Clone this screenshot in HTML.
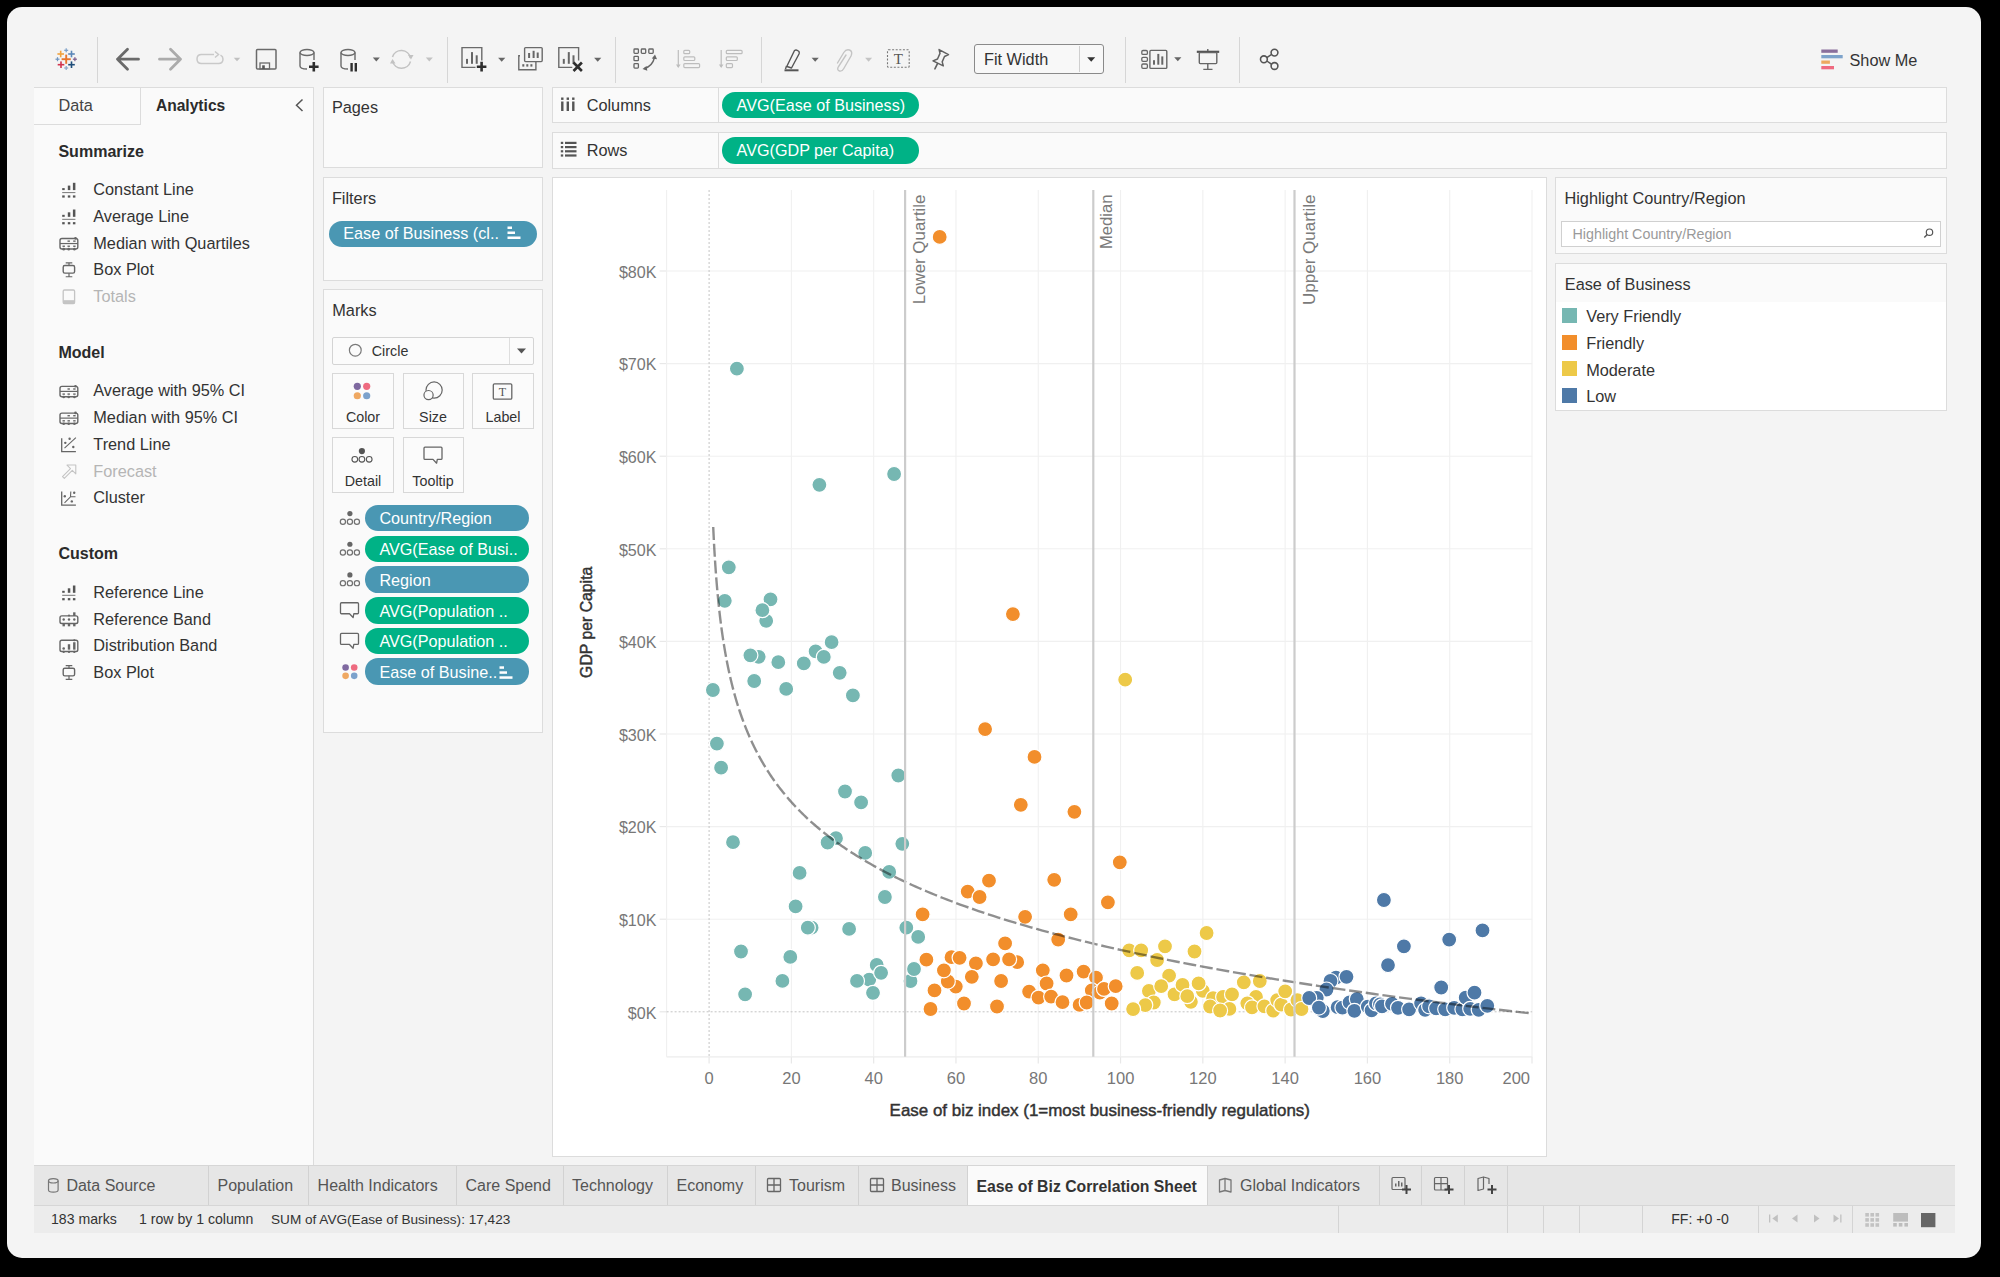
<!DOCTYPE html>
<html><head><meta charset="utf-8"><title>Tableau - Ease of Biz Correlation Sheet</title>
<style>
html,body{margin:0;padding:0;width:2000px;height:1277px;overflow:hidden;background:#000;font-family:"Liberation Sans", sans-serif;}
#root{position:relative;width:2000px;height:1277px;overflow:hidden;}
</style></head><body><div id="root">
<div style="position:absolute;left:7px;top:7px;width:1974px;height:1251px;border-radius:15px;background:#f4f4f4;"></div><div style="position:absolute;left:97.00px;top:37.00px;width:1.00px;height:46.00px;background:#d6d6d6"></div><div style="position:absolute;left:446.50px;top:37.00px;width:1.00px;height:46.00px;background:#d6d6d6"></div><div style="position:absolute;left:614.50px;top:37.00px;width:1.00px;height:46.00px;background:#d6d6d6"></div><div style="position:absolute;left:761.00px;top:37.00px;width:1.00px;height:46.00px;background:#d6d6d6"></div><div style="position:absolute;left:1124.50px;top:37.00px;width:1.00px;height:46.00px;background:#d6d6d6"></div><div style="position:absolute;left:1238.50px;top:37.00px;width:1.00px;height:46.00px;background:#d6d6d6"></div><div style="position:absolute;left:34.00px;top:86.50px;width:280.00px;height:1078.50px;background:#fafafa;border-top:1px solid #dcdcdc;border-right:1px solid #dcdcdc;box-sizing:border-box"></div><div style="position:absolute;left:34.00px;top:86.50px;width:107.00px;height:38.50px;border-right:1px solid #dcdcdc;border-bottom:1px solid #dcdcdc;box-sizing:border-box"></div><div style="position:absolute;left:58.40px;top:97.20px;font-size:16.3px;line-height:1;color:#444;font-weight:normal;white-space:nowrap;">Data</div><div style="position:absolute;left:155.90px;top:97.79px;font-size:15.6px;line-height:1;color:#2b2b2b;font-weight:bold;white-space:nowrap;">Analytics</div><svg style="position:absolute;left:293px;top:97px;overflow:visible;" width="14" height="16" viewBox="0 0 14 16"><path d="M9.5 2.5 L3.5 8.3 L9.5 14" fill="none" stroke="#555" stroke-width="1.5"/></svg><div style="position:absolute;left:58.40px;top:142.81px;font-size:16.05px;line-height:1;color:#2b2b2b;font-weight:bold;white-space:nowrap;">Summarize</div><div style="position:absolute;left:93.30px;top:181.30px;font-size:16.3px;line-height:1;color:#333;font-weight:normal;white-space:nowrap;">Constant Line</div><div style="position:absolute;left:93.30px;top:208.02px;font-size:16.3px;line-height:1;color:#333;font-weight:normal;white-space:nowrap;">Average Line</div><div style="position:absolute;left:93.30px;top:234.74px;font-size:16.3px;line-height:1;color:#333;font-weight:normal;white-space:nowrap;">Median with Quartiles</div><div style="position:absolute;left:93.30px;top:261.46px;font-size:16.3px;line-height:1;color:#333;font-weight:normal;white-space:nowrap;">Box Plot</div><div style="position:absolute;left:93.30px;top:288.18px;font-size:16.3px;line-height:1;color:#b5b5b5;font-weight:normal;white-space:nowrap;">Totals</div><div style="position:absolute;left:58.40px;top:343.91px;font-size:16.05px;line-height:1;color:#2b2b2b;font-weight:bold;white-space:nowrap;">Model</div><div style="position:absolute;left:93.30px;top:382.40px;font-size:16.3px;line-height:1;color:#333;font-weight:normal;white-space:nowrap;">Average with 95% CI</div><div style="position:absolute;left:93.30px;top:409.12px;font-size:16.3px;line-height:1;color:#333;font-weight:normal;white-space:nowrap;">Median with 95% CI</div><div style="position:absolute;left:93.30px;top:435.84px;font-size:16.3px;line-height:1;color:#333;font-weight:normal;white-space:nowrap;">Trend Line</div><div style="position:absolute;left:93.30px;top:462.56px;font-size:16.3px;line-height:1;color:#b5b5b5;font-weight:normal;white-space:nowrap;">Forecast</div><div style="position:absolute;left:93.30px;top:489.28px;font-size:16.3px;line-height:1;color:#333;font-weight:normal;white-space:nowrap;">Cluster</div><div style="position:absolute;left:58.40px;top:545.41px;font-size:16.05px;line-height:1;color:#2b2b2b;font-weight:bold;white-space:nowrap;">Custom</div><div style="position:absolute;left:93.30px;top:583.90px;font-size:16.3px;line-height:1;color:#333;font-weight:normal;white-space:nowrap;">Reference Line</div><div style="position:absolute;left:93.30px;top:610.62px;font-size:16.3px;line-height:1;color:#333;font-weight:normal;white-space:nowrap;">Reference Band</div><div style="position:absolute;left:93.30px;top:637.34px;font-size:16.3px;line-height:1;color:#333;font-weight:normal;white-space:nowrap;">Distribution Band</div><div style="position:absolute;left:93.30px;top:664.06px;font-size:16.3px;line-height:1;color:#333;font-weight:normal;white-space:nowrap;">Box Plot</div><div style="position:absolute;left:322.50px;top:86.50px;width:220.50px;height:81.80px;background:#fafafa;border:1px solid #dcdcdc;box-sizing:border-box"></div><div style="position:absolute;left:331.90px;top:99.20px;font-size:16.3px;line-height:1;color:#333;font-weight:normal;white-space:nowrap;">Pages</div><div style="position:absolute;left:322.50px;top:177.00px;width:220.50px;height:103.50px;background:#fafafa;border:1px solid #dcdcdc;box-sizing:border-box"></div><div style="position:absolute;left:331.90px;top:189.80px;font-size:16.3px;line-height:1;color:#333;font-weight:normal;white-space:nowrap;">Filters</div><div style="position:absolute;left:322.50px;top:289.00px;width:220.50px;height:443.50px;background:#fafafa;border:1px solid #dcdcdc;box-sizing:border-box"></div><div style="position:absolute;left:332.30px;top:301.70px;font-size:16.3px;line-height:1;color:#333;font-weight:normal;white-space:nowrap;">Marks</div><div style="position:absolute;left:329.00px;top:220.80px;width:208.00px;height:26.60px;background:#4a97b3;border-radius:13.3px"></div><div style="position:absolute;left:343.30px;top:225.29px;font-size:16.2px;line-height:1;color:#fff;font-weight:normal;white-space:nowrap;">Ease of Business (cl..</div><div style="position:absolute;left:332.00px;top:337.00px;width:202.00px;height:27.50px;background:#fbfbfb;border:1px solid #d4d4d4;box-sizing:border-box;border-radius:2px"></div><div style="position:absolute;left:509.00px;top:338.00px;width:1.00px;height:25.50px;background:#dedede"></div><div style="position:absolute;left:371.80px;top:343.70px;font-size:14.3px;line-height:1;color:#333;font-weight:normal;white-space:nowrap;">Circle</div><div style="position:absolute;left:332.00px;top:373.00px;width:62.00px;height:55.50px;background:#fbfbfb;border:1px solid #d8d8d8;box-sizing:border-box"></div><div style="position:absolute;left:363.00px;transform:translateX(-50%);top:410.20px;font-size:14.3px;line-height:1;color:#333;font-weight:normal;white-space:nowrap;">Color</div><div style="position:absolute;left:402.50px;top:373.00px;width:61.00px;height:55.50px;background:#fbfbfb;border:1px solid #d8d8d8;box-sizing:border-box"></div><div style="position:absolute;left:433.00px;transform:translateX(-50%);top:410.20px;font-size:14.3px;line-height:1;color:#333;font-weight:normal;white-space:nowrap;">Size</div><div style="position:absolute;left:472.00px;top:373.00px;width:62.00px;height:55.50px;background:#fbfbfb;border:1px solid #d8d8d8;box-sizing:border-box"></div><div style="position:absolute;left:503.00px;transform:translateX(-50%);top:410.20px;font-size:14.3px;line-height:1;color:#333;font-weight:normal;white-space:nowrap;">Label</div><div style="position:absolute;left:332.00px;top:437.00px;width:62.00px;height:55.50px;background:#fbfbfb;border:1px solid #d8d8d8;box-sizing:border-box"></div><div style="position:absolute;left:363.00px;transform:translateX(-50%);top:474.20px;font-size:14.3px;line-height:1;color:#333;font-weight:normal;white-space:nowrap;">Detail</div><div style="position:absolute;left:402.50px;top:437.00px;width:61.00px;height:55.50px;background:#fbfbfb;border:1px solid #d8d8d8;box-sizing:border-box"></div><div style="position:absolute;left:433.00px;transform:translateX(-50%);top:474.20px;font-size:14.3px;line-height:1;color:#333;font-weight:normal;white-space:nowrap;">Tooltip</div><div style="position:absolute;left:364.80px;top:504.90px;width:164.20px;height:26.50px;background:#4a97b3;border-radius:13.2px"></div><div style="position:absolute;left:379.40px;top:510.49px;font-size:16.2px;line-height:1;color:#fff;font-weight:normal;white-space:nowrap;">Country/Region</div><div style="position:absolute;left:364.80px;top:535.60px;width:164.20px;height:26.50px;background:#00b286;border-radius:13.2px"></div><div style="position:absolute;left:379.40px;top:541.19px;font-size:16.2px;line-height:1;color:#fff;font-weight:normal;white-space:nowrap;">AVG(Ease of Busi..</div><div style="position:absolute;left:364.80px;top:566.30px;width:164.20px;height:26.50px;background:#4a97b3;border-radius:13.2px"></div><div style="position:absolute;left:379.40px;top:571.89px;font-size:16.2px;line-height:1;color:#fff;font-weight:normal;white-space:nowrap;">Region</div><div style="position:absolute;left:364.80px;top:597.00px;width:164.20px;height:26.50px;background:#00b286;border-radius:13.2px"></div><div style="position:absolute;left:379.40px;top:602.59px;font-size:16.2px;line-height:1;color:#fff;font-weight:normal;white-space:nowrap;">AVG(Population ..</div><div style="position:absolute;left:364.80px;top:627.70px;width:164.20px;height:26.50px;background:#00b286;border-radius:13.2px"></div><div style="position:absolute;left:379.40px;top:633.29px;font-size:16.2px;line-height:1;color:#fff;font-weight:normal;white-space:nowrap;">AVG(Population ..</div><div style="position:absolute;left:364.80px;top:658.40px;width:164.20px;height:26.50px;background:#4a97b3;border-radius:13.2px"></div><div style="position:absolute;left:379.40px;top:663.99px;font-size:16.2px;line-height:1;color:#fff;font-weight:normal;white-space:nowrap;">Ease of Busine..</div><div style="position:absolute;left:552.00px;top:86.50px;width:1394.50px;height:36.50px;background:#fafafa;border:1px solid #dcdcdc;box-sizing:border-box"></div><div style="position:absolute;left:718.00px;top:87.00px;width:1.00px;height:35.00px;background:#dcdcdc"></div><div style="position:absolute;left:586.70px;top:97.20px;font-size:16.3px;line-height:1;color:#333;font-weight:normal;white-space:nowrap;">Columns</div><div style="position:absolute;left:722.40px;top:91.50px;width:197.10px;height:26.50px;background:#00b286;border-radius:13.2px"></div><div style="position:absolute;left:736.60px;top:96.72px;font-size:16.16px;line-height:1;color:#fff;font-weight:normal;white-space:nowrap;">AVG(Ease of Business)</div><div style="position:absolute;left:552.00px;top:131.50px;width:1394.50px;height:37.00px;background:#fafafa;border:1px solid #dcdcdc;box-sizing:border-box"></div><div style="position:absolute;left:718.00px;top:132.00px;width:1.00px;height:36.00px;background:#dcdcdc"></div><div style="position:absolute;left:586.70px;top:142.20px;font-size:16.3px;line-height:1;color:#333;font-weight:normal;white-space:nowrap;">Rows</div><div style="position:absolute;left:722.40px;top:137.00px;width:197.10px;height:26.50px;background:#00b286;border-radius:13.2px"></div><div style="position:absolute;left:736.60px;top:141.92px;font-size:16.16px;line-height:1;color:#fff;font-weight:normal;white-space:nowrap;">AVG(GDP per Capita)</div><div style="position:absolute;left:552.00px;top:177.00px;width:994.50px;height:980.00px;background:#fff;border:1px solid #dcdcdc;box-sizing:border-box"></div><div style="position:absolute;left:1554.50px;top:177.00px;width:392.00px;height:76.50px;background:#fafafa;border:1px solid #dcdcdc;box-sizing:border-box"></div><div style="position:absolute;left:1564.50px;top:190.20px;font-size:16.3px;line-height:1;color:#333;font-weight:normal;white-space:nowrap;">Highlight Country/Region</div><div style="position:absolute;left:1560.50px;top:221.00px;width:380.50px;height:26.00px;background:#fff;border:1px solid #d0d0d0;box-sizing:border-box"></div><div style="position:absolute;left:1572.50px;top:226.70px;font-size:14.3px;line-height:1;color:#9a9a9a;font-weight:normal;white-space:nowrap;">Highlight Country/Region</div><div style="position:absolute;left:1554.50px;top:262.50px;width:392.00px;height:148.50px;background:#fff;border:1px solid #dcdcdc;box-sizing:border-box"></div><div style="position:absolute;left:1555.50px;top:263.50px;width:390.00px;height:38.50px;background:#fafafa"></div><div style="position:absolute;left:1564.80px;top:275.50px;font-size:16.3px;line-height:1;color:#333;font-weight:normal;white-space:nowrap;">Ease of Business</div><div style="position:absolute;left:1562.00px;top:308.20px;width:15.00px;height:15.00px;background:#76b7b2"></div><div style="position:absolute;left:1586.20px;top:308.40px;font-size:16.3px;line-height:1;color:#333;font-weight:normal;white-space:nowrap;">Very Friendly</div><div style="position:absolute;left:1562.00px;top:334.80px;width:15.00px;height:15.00px;background:#f28e2b"></div><div style="position:absolute;left:1586.20px;top:335.00px;font-size:16.3px;line-height:1;color:#333;font-weight:normal;white-space:nowrap;">Friendly</div><div style="position:absolute;left:1562.00px;top:361.40px;width:15.00px;height:15.00px;background:#edc948"></div><div style="position:absolute;left:1586.20px;top:361.60px;font-size:16.3px;line-height:1;color:#333;font-weight:normal;white-space:nowrap;">Moderate</div><div style="position:absolute;left:1562.00px;top:388.00px;width:15.00px;height:15.00px;background:#4e79a7"></div><div style="position:absolute;left:1586.20px;top:388.20px;font-size:16.3px;line-height:1;color:#333;font-weight:normal;white-space:nowrap;">Low</div><div style="position:absolute;left:34.00px;top:1165.00px;width:1920.50px;height:41.00px;background:#e6e6e6;border-top:1px solid #d6d6d6;border-bottom:1px solid #d6d6d6;box-sizing:border-box"></div><div style="position:absolute;left:967.50px;top:1166.00px;width:240.00px;height:39.00px;background:#fafafa"></div><div style="position:absolute;left:207.50px;top:1166.00px;width:1.00px;height:39.00px;background:#d2d2d2"></div><div style="position:absolute;left:308.00px;top:1166.00px;width:1.00px;height:39.00px;background:#d2d2d2"></div><div style="position:absolute;left:456.20px;top:1166.00px;width:1.00px;height:39.00px;background:#d2d2d2"></div><div style="position:absolute;left:563.10px;top:1166.00px;width:1.00px;height:39.00px;background:#d2d2d2"></div><div style="position:absolute;left:666.80px;top:1166.00px;width:1.00px;height:39.00px;background:#d2d2d2"></div><div style="position:absolute;left:754.90px;top:1166.00px;width:1.00px;height:39.00px;background:#d2d2d2"></div><div style="position:absolute;left:857.50px;top:1166.00px;width:1.00px;height:39.00px;background:#d2d2d2"></div><div style="position:absolute;left:967.00px;top:1166.00px;width:1.00px;height:39.00px;background:#d2d2d2"></div><div style="position:absolute;left:1207.00px;top:1166.00px;width:1.00px;height:39.00px;background:#d2d2d2"></div><div style="position:absolute;left:1378.80px;top:1166.00px;width:1.00px;height:39.00px;background:#d2d2d2"></div><div style="position:absolute;left:1421.00px;top:1166.00px;width:1.00px;height:39.00px;background:#d2d2d2"></div><div style="position:absolute;left:1463.50px;top:1166.00px;width:1.00px;height:39.00px;background:#d2d2d2"></div><div style="position:absolute;left:1506.50px;top:1166.00px;width:1.00px;height:39.00px;background:#d2d2d2"></div><div style="position:absolute;left:66.40px;top:1178.46px;font-size:16.0px;line-height:1;color:#555;font-weight:normal;white-space:nowrap;">Data Source</div><div style="position:absolute;left:217.50px;top:1178.46px;font-size:16.0px;line-height:1;color:#555;font-weight:normal;white-space:nowrap;">Population</div><div style="position:absolute;left:317.60px;top:1178.46px;font-size:16.0px;line-height:1;color:#555;font-weight:normal;white-space:nowrap;">Health Indicators</div><div style="position:absolute;left:465.50px;top:1178.46px;font-size:16.0px;line-height:1;color:#555;font-weight:normal;white-space:nowrap;">Care Spend</div><div style="position:absolute;left:572.00px;top:1178.46px;font-size:16.0px;line-height:1;color:#555;font-weight:normal;white-space:nowrap;">Technology</div><div style="position:absolute;left:676.50px;top:1178.46px;font-size:16.0px;line-height:1;color:#555;font-weight:normal;white-space:nowrap;">Economy</div><div style="position:absolute;left:789.00px;top:1178.46px;font-size:16.0px;line-height:1;color:#555;font-weight:normal;white-space:nowrap;">Tourism</div><div style="position:absolute;left:891.00px;top:1178.46px;font-size:16.0px;line-height:1;color:#555;font-weight:normal;white-space:nowrap;">Business</div><div style="position:absolute;left:1240.00px;top:1178.46px;font-size:16.0px;line-height:1;color:#555;font-weight:normal;white-space:nowrap;">Global Indicators</div><div style="position:absolute;left:976.50px;top:1178.63px;font-size:15.8px;line-height:1;color:#333;font-weight:bold;white-space:nowrap;">Ease of Biz Correlation Sheet</div><div style="position:absolute;left:34.00px;top:1206.00px;width:1920.50px;height:27.00px;background:#ececec"></div><div style="position:absolute;left:1337.50px;top:1206.00px;width:1.00px;height:27.00px;background:#d4d4d4"></div><div style="position:absolute;left:1506.50px;top:1206.00px;width:1.00px;height:27.00px;background:#d4d4d4"></div><div style="position:absolute;left:1542.50px;top:1206.00px;width:1.00px;height:27.00px;background:#d4d4d4"></div><div style="position:absolute;left:1578.50px;top:1206.00px;width:1.00px;height:27.00px;background:#d4d4d4"></div><div style="position:absolute;left:1641.50px;top:1206.00px;width:1.00px;height:27.00px;background:#d4d4d4"></div><div style="position:absolute;left:1757.50px;top:1206.00px;width:1.00px;height:27.00px;background:#d4d4d4"></div><div style="position:absolute;left:1851.90px;top:1206.00px;width:1.00px;height:27.00px;background:#d4d4d4"></div><div style="position:absolute;left:51.00px;top:1212.46px;font-size:14.1px;line-height:1;color:#333;font-weight:normal;white-space:nowrap;">183 marks</div><div style="position:absolute;left:139.00px;top:1212.46px;font-size:14.1px;line-height:1;color:#333;font-weight:normal;white-space:nowrap;">1 row by 1 column</div><div style="position:absolute;left:271.00px;top:1212.89px;font-size:13.6px;line-height:1;color:#333;font-weight:normal;white-space:nowrap;">SUM of AVG(Ease of Business): 17,423</div><div style="position:absolute;left:1700.00px;transform:translateX(-50%);top:1212.46px;font-size:14.1px;line-height:1;color:#333;font-weight:normal;white-space:nowrap;">FF: +0 -0</div><div style="position:absolute;left:1849.50px;top:52.20px;font-size:16.3px;line-height:1;color:#333;font-weight:normal;white-space:nowrap;">Show Me</div><div style="position:absolute;left:973.50px;top:44.00px;width:130.00px;height:29.50px;background:#f8f8f8;border:1.5px solid #8a8a8a;border-radius:3px;box-sizing:border-box"></div><div style="position:absolute;left:1079.00px;top:45.50px;width:1.00px;height:26.50px;background:#cfcfcf"></div><div style="position:absolute;left:984.00px;top:50.70px;font-size:16.3px;line-height:1;color:#333;font-weight:normal;white-space:nowrap;">Fit Width</div><svg style="position:absolute;left:0px;top:0px;overflow:visible;font-family:'Liberation Sans',sans-serif" width="2000" height="1277" viewBox="0 0 2000 1277"><line x1="666.6" y1="919.20" x2="1532.2" y2="919.20" stroke="#f0f0f0" stroke-width="1.1"/><line x1="659.6" y1="919.20" x2="666.6" y2="919.20" stroke="#e8e8e8" stroke-width="1.2"/><line x1="666.6" y1="826.60" x2="1532.2" y2="826.60" stroke="#f0f0f0" stroke-width="1.1"/><line x1="659.6" y1="826.60" x2="666.6" y2="826.60" stroke="#e8e8e8" stroke-width="1.2"/><line x1="666.6" y1="734.00" x2="1532.2" y2="734.00" stroke="#f0f0f0" stroke-width="1.1"/><line x1="659.6" y1="734.00" x2="666.6" y2="734.00" stroke="#e8e8e8" stroke-width="1.2"/><line x1="666.6" y1="641.40" x2="1532.2" y2="641.40" stroke="#f0f0f0" stroke-width="1.1"/><line x1="659.6" y1="641.40" x2="666.6" y2="641.40" stroke="#e8e8e8" stroke-width="1.2"/><line x1="666.6" y1="548.80" x2="1532.2" y2="548.80" stroke="#f0f0f0" stroke-width="1.1"/><line x1="659.6" y1="548.80" x2="666.6" y2="548.80" stroke="#e8e8e8" stroke-width="1.2"/><line x1="666.6" y1="456.20" x2="1532.2" y2="456.20" stroke="#f0f0f0" stroke-width="1.1"/><line x1="659.6" y1="456.20" x2="666.6" y2="456.20" stroke="#e8e8e8" stroke-width="1.2"/><line x1="666.6" y1="363.60" x2="1532.2" y2="363.60" stroke="#f0f0f0" stroke-width="1.1"/><line x1="659.6" y1="363.60" x2="666.6" y2="363.60" stroke="#e8e8e8" stroke-width="1.2"/><line x1="666.6" y1="271.00" x2="1532.2" y2="271.00" stroke="#f0f0f0" stroke-width="1.1"/><line x1="659.6" y1="271.00" x2="666.6" y2="271.00" stroke="#e8e8e8" stroke-width="1.2"/><line x1="791.39" y1="190" x2="791.39" y2="1056.8" stroke="#f0f0f0" stroke-width="1.1"/><line x1="873.68" y1="190" x2="873.68" y2="1056.8" stroke="#f0f0f0" stroke-width="1.1"/><line x1="955.97" y1="190" x2="955.97" y2="1056.8" stroke="#f0f0f0" stroke-width="1.1"/><line x1="1038.26" y1="190" x2="1038.26" y2="1056.8" stroke="#f0f0f0" stroke-width="1.1"/><line x1="1120.55" y1="190" x2="1120.55" y2="1056.8" stroke="#f0f0f0" stroke-width="1.1"/><line x1="1202.84" y1="190" x2="1202.84" y2="1056.8" stroke="#f0f0f0" stroke-width="1.1"/><line x1="1285.13" y1="190" x2="1285.13" y2="1056.8" stroke="#f0f0f0" stroke-width="1.1"/><line x1="1367.42" y1="190" x2="1367.42" y2="1056.8" stroke="#f0f0f0" stroke-width="1.1"/><line x1="1449.71" y1="190" x2="1449.71" y2="1056.8" stroke="#f0f0f0" stroke-width="1.1"/><line x1="1532.00" y1="190" x2="1532.00" y2="1056.8" stroke="#f0f0f0" stroke-width="1.1"/><line x1="709.10" y1="1056.8" x2="709.10" y2="1063.5" stroke="#e8e8e8" stroke-width="1.2"/><line x1="791.39" y1="1056.8" x2="791.39" y2="1063.5" stroke="#e8e8e8" stroke-width="1.2"/><line x1="873.68" y1="1056.8" x2="873.68" y2="1063.5" stroke="#e8e8e8" stroke-width="1.2"/><line x1="955.97" y1="1056.8" x2="955.97" y2="1063.5" stroke="#e8e8e8" stroke-width="1.2"/><line x1="1038.26" y1="1056.8" x2="1038.26" y2="1063.5" stroke="#e8e8e8" stroke-width="1.2"/><line x1="1120.55" y1="1056.8" x2="1120.55" y2="1063.5" stroke="#e8e8e8" stroke-width="1.2"/><line x1="1202.84" y1="1056.8" x2="1202.84" y2="1063.5" stroke="#e8e8e8" stroke-width="1.2"/><line x1="1285.13" y1="1056.8" x2="1285.13" y2="1063.5" stroke="#e8e8e8" stroke-width="1.2"/><line x1="1367.42" y1="1056.8" x2="1367.42" y2="1063.5" stroke="#e8e8e8" stroke-width="1.2"/><line x1="1449.71" y1="1056.8" x2="1449.71" y2="1063.5" stroke="#e8e8e8" stroke-width="1.2"/><line x1="1532.00" y1="1056.8" x2="1532.00" y2="1063.5" stroke="#e8e8e8" stroke-width="1.2"/><line x1="659.6" y1="1011.80" x2="666.6" y2="1011.80" stroke="#e8e8e8" stroke-width="1.2"/><line x1="666.6" y1="190" x2="666.6" y2="1056.8" stroke="#f0f0f0" stroke-width="1.1"/><line x1="666.6" y1="1056.8" x2="1532.2" y2="1056.8" stroke="#ececec" stroke-width="1.2"/><line x1="709.10" y1="190" x2="709.10" y2="1056.8" stroke="#c4c4c4" stroke-width="1" stroke-dasharray="2 2"/><line x1="666.6" y1="1011.80" x2="1532.2" y2="1011.80" stroke="#c4c4c4" stroke-width="1" stroke-dasharray="2 2"/><circle cx="736.9" cy="368.7" r="7.5" fill="#76b7b2" stroke="#fff" stroke-width="1.2"/><circle cx="819.4" cy="484.8" r="7.5" fill="#76b7b2" stroke="#fff" stroke-width="1.2"/><circle cx="894.1" cy="474" r="7.5" fill="#76b7b2" stroke="#fff" stroke-width="1.2"/><circle cx="728.8" cy="567.3" r="7.5" fill="#76b7b2" stroke="#fff" stroke-width="1.2"/><circle cx="724.8" cy="600.8" r="7.5" fill="#76b7b2" stroke="#fff" stroke-width="1.2"/><circle cx="770.5" cy="599.3" r="7.5" fill="#76b7b2" stroke="#fff" stroke-width="1.2"/><circle cx="766.2" cy="620.8" r="7.5" fill="#76b7b2" stroke="#fff" stroke-width="1.2"/><circle cx="762.4" cy="610.2" r="7.5" fill="#76b7b2" stroke="#fff" stroke-width="1.2"/><circle cx="758.7" cy="656.8" r="7.5" fill="#76b7b2" stroke="#fff" stroke-width="1.2"/><circle cx="750.4" cy="655.3" r="7.5" fill="#76b7b2" stroke="#fff" stroke-width="1.2"/><circle cx="778.3" cy="662.2" r="7.5" fill="#76b7b2" stroke="#fff" stroke-width="1.2"/><circle cx="803.8" cy="663.4" r="7.5" fill="#76b7b2" stroke="#fff" stroke-width="1.2"/><circle cx="815.6" cy="651.3" r="7.5" fill="#76b7b2" stroke="#fff" stroke-width="1.2"/><circle cx="823.8" cy="656.9" r="7.5" fill="#76b7b2" stroke="#fff" stroke-width="1.2"/><circle cx="831.6" cy="642.1" r="7.5" fill="#76b7b2" stroke="#fff" stroke-width="1.2"/><circle cx="839.7" cy="672.8" r="7.5" fill="#76b7b2" stroke="#fff" stroke-width="1.2"/><circle cx="754.2" cy="681" r="7.5" fill="#76b7b2" stroke="#fff" stroke-width="1.2"/><circle cx="712.9" cy="690" r="7.5" fill="#76b7b2" stroke="#fff" stroke-width="1.2"/><circle cx="786.2" cy="688.9" r="7.5" fill="#76b7b2" stroke="#fff" stroke-width="1.2"/><circle cx="852.9" cy="695.4" r="7.5" fill="#76b7b2" stroke="#fff" stroke-width="1.2"/><circle cx="716.9" cy="743.6" r="7.5" fill="#76b7b2" stroke="#fff" stroke-width="1.2"/><circle cx="721.1" cy="767.7" r="7.5" fill="#76b7b2" stroke="#fff" stroke-width="1.2"/><circle cx="845" cy="791.5" r="7.5" fill="#76b7b2" stroke="#fff" stroke-width="1.2"/><circle cx="861.1" cy="802.4" r="7.5" fill="#76b7b2" stroke="#fff" stroke-width="1.2"/><circle cx="733" cy="842.2" r="7.5" fill="#76b7b2" stroke="#fff" stroke-width="1.2"/><circle cx="836" cy="838.2" r="7.5" fill="#76b7b2" stroke="#fff" stroke-width="1.2"/><circle cx="827.6" cy="842.5" r="7.5" fill="#76b7b2" stroke="#fff" stroke-width="1.2"/><circle cx="865.2" cy="852.9" r="7.5" fill="#76b7b2" stroke="#fff" stroke-width="1.2"/><circle cx="898.3" cy="775.5" r="7.5" fill="#76b7b2" stroke="#fff" stroke-width="1.2"/><circle cx="799.6" cy="872.9" r="7.5" fill="#76b7b2" stroke="#fff" stroke-width="1.2"/><circle cx="795.6" cy="906.4" r="7.5" fill="#76b7b2" stroke="#fff" stroke-width="1.2"/><circle cx="811.6" cy="927.7" r="7.5" fill="#76b7b2" stroke="#fff" stroke-width="1.2"/><circle cx="807.8" cy="927.7" r="7.5" fill="#76b7b2" stroke="#fff" stroke-width="1.2"/><circle cx="849.1" cy="928.9" r="7.5" fill="#76b7b2" stroke="#fff" stroke-width="1.2"/><circle cx="741" cy="951.5" r="7.5" fill="#76b7b2" stroke="#fff" stroke-width="1.2"/><circle cx="790.3" cy="956.9" r="7.5" fill="#76b7b2" stroke="#fff" stroke-width="1.2"/><circle cx="782.4" cy="980.9" r="7.5" fill="#76b7b2" stroke="#fff" stroke-width="1.2"/><circle cx="745.1" cy="994.3" r="7.5" fill="#76b7b2" stroke="#fff" stroke-width="1.2"/><circle cx="869.2" cy="979.7" r="7.5" fill="#76b7b2" stroke="#fff" stroke-width="1.2"/><circle cx="857" cy="980.9" r="7.5" fill="#76b7b2" stroke="#fff" stroke-width="1.2"/><circle cx="876.7" cy="965" r="7.5" fill="#76b7b2" stroke="#fff" stroke-width="1.2"/><circle cx="881.1" cy="972.8" r="7.5" fill="#76b7b2" stroke="#fff" stroke-width="1.2"/><circle cx="873" cy="992.8" r="7.5" fill="#76b7b2" stroke="#fff" stroke-width="1.2"/><circle cx="884.9" cy="897" r="7.5" fill="#76b7b2" stroke="#fff" stroke-width="1.2"/><circle cx="889.2" cy="871.9" r="7.5" fill="#76b7b2" stroke="#fff" stroke-width="1.2"/><circle cx="902.3" cy="843.8" r="7.5" fill="#76b7b2" stroke="#fff" stroke-width="1.2"/><circle cx="906.3" cy="927.7" r="7.5" fill="#76b7b2" stroke="#fff" stroke-width="1.2"/><circle cx="918.2" cy="936.9" r="7.5" fill="#76b7b2" stroke="#fff" stroke-width="1.2"/><circle cx="910.5" cy="981" r="7.5" fill="#76b7b2" stroke="#fff" stroke-width="1.2"/><circle cx="914" cy="969" r="7.5" fill="#76b7b2" stroke="#fff" stroke-width="1.2"/><circle cx="939.7" cy="236.9" r="7.5" fill="#f28e2b" stroke="#fff" stroke-width="1.2"/><circle cx="1012.9" cy="614.1" r="7.5" fill="#f28e2b" stroke="#fff" stroke-width="1.2"/><circle cx="985.1" cy="729.1" r="7.5" fill="#f28e2b" stroke="#fff" stroke-width="1.2"/><circle cx="1034.5" cy="756.9" r="7.5" fill="#f28e2b" stroke="#fff" stroke-width="1.2"/><circle cx="1020.8" cy="804.8" r="7.5" fill="#f28e2b" stroke="#fff" stroke-width="1.2"/><circle cx="1074.4" cy="811.8" r="7.5" fill="#f28e2b" stroke="#fff" stroke-width="1.2"/><circle cx="1119.8" cy="862.3" r="7.5" fill="#f28e2b" stroke="#fff" stroke-width="1.2"/><circle cx="1107.9" cy="902.3" r="7.5" fill="#f28e2b" stroke="#fff" stroke-width="1.2"/><circle cx="989" cy="880.7" r="7.5" fill="#f28e2b" stroke="#fff" stroke-width="1.2"/><circle cx="967.7" cy="891.6" r="7.5" fill="#f28e2b" stroke="#fff" stroke-width="1.2"/><circle cx="979.6" cy="897" r="7.5" fill="#f28e2b" stroke="#fff" stroke-width="1.2"/><circle cx="1054.2" cy="879.8" r="7.5" fill="#f28e2b" stroke="#fff" stroke-width="1.2"/><circle cx="922.6" cy="914.3" r="7.5" fill="#f28e2b" stroke="#fff" stroke-width="1.2"/><circle cx="1025.1" cy="916.8" r="7.5" fill="#f28e2b" stroke="#fff" stroke-width="1.2"/><circle cx="1070.7" cy="914.3" r="7.5" fill="#f28e2b" stroke="#fff" stroke-width="1.2"/><circle cx="1058.2" cy="939.6" r="7.5" fill="#f28e2b" stroke="#fff" stroke-width="1.2"/><circle cx="1005.1" cy="943.4" r="7.5" fill="#f28e2b" stroke="#fff" stroke-width="1.2"/><circle cx="926.4" cy="959.7" r="7.5" fill="#f28e2b" stroke="#fff" stroke-width="1.2"/><circle cx="951.5" cy="957.2" r="7.5" fill="#f28e2b" stroke="#fff" stroke-width="1.2"/><circle cx="959.6" cy="957.8" r="7.5" fill="#f28e2b" stroke="#fff" stroke-width="1.2"/><circle cx="975.9" cy="963.4" r="7.5" fill="#f28e2b" stroke="#fff" stroke-width="1.2"/><circle cx="993.1" cy="959.4" r="7.5" fill="#f28e2b" stroke="#fff" stroke-width="1.2"/><circle cx="1017.2" cy="962.2" r="7.5" fill="#f28e2b" stroke="#fff" stroke-width="1.2"/><circle cx="1009.1" cy="959.4" r="7.5" fill="#f28e2b" stroke="#fff" stroke-width="1.2"/><circle cx="955.8" cy="986.6" r="7.5" fill="#f28e2b" stroke="#fff" stroke-width="1.2"/><circle cx="947.8" cy="981.5" r="7.5" fill="#f28e2b" stroke="#fff" stroke-width="1.2"/><circle cx="943.9" cy="970.3" r="7.5" fill="#f28e2b" stroke="#fff" stroke-width="1.2"/><circle cx="971.8" cy="976.8" r="7.5" fill="#f28e2b" stroke="#fff" stroke-width="1.2"/><circle cx="1001.1" cy="981" r="7.5" fill="#f28e2b" stroke="#fff" stroke-width="1.2"/><circle cx="934.5" cy="990.4" r="7.5" fill="#f28e2b" stroke="#fff" stroke-width="1.2"/><circle cx="930.5" cy="1009" r="7.5" fill="#f28e2b" stroke="#fff" stroke-width="1.2"/><circle cx="964" cy="1003.5" r="7.5" fill="#f28e2b" stroke="#fff" stroke-width="1.2"/><circle cx="997" cy="1006.5" r="7.5" fill="#f28e2b" stroke="#fff" stroke-width="1.2"/><circle cx="1042.8" cy="970.3" r="7.5" fill="#f28e2b" stroke="#fff" stroke-width="1.2"/><circle cx="1046.6" cy="983.5" r="7.5" fill="#f28e2b" stroke="#fff" stroke-width="1.2"/><circle cx="1029.1" cy="991.6" r="7.5" fill="#f28e2b" stroke="#fff" stroke-width="1.2"/><circle cx="1038.5" cy="997.6" r="7.5" fill="#f28e2b" stroke="#fff" stroke-width="1.2"/><circle cx="1051.1" cy="996.6" r="7.5" fill="#f28e2b" stroke="#fff" stroke-width="1.2"/><circle cx="1062.5" cy="1002.2" r="7.5" fill="#f28e2b" stroke="#fff" stroke-width="1.2"/><circle cx="1066.5" cy="975.5" r="7.5" fill="#f28e2b" stroke="#fff" stroke-width="1.2"/><circle cx="1083.6" cy="971.6" r="7.5" fill="#f28e2b" stroke="#fff" stroke-width="1.2"/><circle cx="1096" cy="977.6" r="7.5" fill="#f28e2b" stroke="#fff" stroke-width="1.2"/><circle cx="1091.8" cy="990.4" r="7.5" fill="#f28e2b" stroke="#fff" stroke-width="1.2"/><circle cx="1099.8" cy="992.5" r="7.5" fill="#f28e2b" stroke="#fff" stroke-width="1.2"/><circle cx="1104" cy="988.9" r="7.5" fill="#f28e2b" stroke="#fff" stroke-width="1.2"/><circle cx="1115.7" cy="986.2" r="7.5" fill="#f28e2b" stroke="#fff" stroke-width="1.2"/><circle cx="1079.6" cy="1004.9" r="7.5" fill="#f28e2b" stroke="#fff" stroke-width="1.2"/><circle cx="1086.7" cy="1002.5" r="7.5" fill="#f28e2b" stroke="#fff" stroke-width="1.2"/><circle cx="1111.7" cy="1003.5" r="7.5" fill="#f28e2b" stroke="#fff" stroke-width="1.2"/><circle cx="1125.2" cy="679.7" r="7.5" fill="#edc948" stroke="#fff" stroke-width="1.2"/><circle cx="1206.6" cy="933" r="7.5" fill="#edc948" stroke="#fff" stroke-width="1.2"/><circle cx="1129.2" cy="950.3" r="7.5" fill="#edc948" stroke="#fff" stroke-width="1.2"/><circle cx="1141.2" cy="950.3" r="7.5" fill="#edc948" stroke="#fff" stroke-width="1.2"/><circle cx="1165" cy="946.3" r="7.5" fill="#edc948" stroke="#fff" stroke-width="1.2"/><circle cx="1157.1" cy="960" r="7.5" fill="#edc948" stroke="#fff" stroke-width="1.2"/><circle cx="1194.5" cy="951.5" r="7.5" fill="#edc948" stroke="#fff" stroke-width="1.2"/><circle cx="1137.2" cy="972.9" r="7.5" fill="#edc948" stroke="#fff" stroke-width="1.2"/><circle cx="1169.1" cy="975.6" r="7.5" fill="#edc948" stroke="#fff" stroke-width="1.2"/><circle cx="1148.9" cy="991" r="7.5" fill="#edc948" stroke="#fff" stroke-width="1.2"/><circle cx="1161.2" cy="986.2" r="7.5" fill="#edc948" stroke="#fff" stroke-width="1.2"/><circle cx="1153.8" cy="1002.5" r="7.5" fill="#edc948" stroke="#fff" stroke-width="1.2"/><circle cx="1145.3" cy="1005.1" r="7.5" fill="#edc948" stroke="#fff" stroke-width="1.2"/><circle cx="1133.1" cy="1009.1" r="7.5" fill="#edc948" stroke="#fff" stroke-width="1.2"/><circle cx="1174.5" cy="994.3" r="7.5" fill="#edc948" stroke="#fff" stroke-width="1.2"/><circle cx="1182.5" cy="984.9" r="7.5" fill="#edc948" stroke="#fff" stroke-width="1.2"/><circle cx="1190.9" cy="1001.8" r="7.5" fill="#edc948" stroke="#fff" stroke-width="1.2"/><circle cx="1187.3" cy="996.2" r="7.5" fill="#edc948" stroke="#fff" stroke-width="1.2"/><circle cx="1202.8" cy="990.8" r="7.5" fill="#edc948" stroke="#fff" stroke-width="1.2"/><circle cx="1198.6" cy="983.4" r="7.5" fill="#edc948" stroke="#fff" stroke-width="1.2"/><circle cx="1213.1" cy="998.2" r="7.5" fill="#edc948" stroke="#fff" stroke-width="1.2"/><circle cx="1223.1" cy="996.9" r="7.5" fill="#edc948" stroke="#fff" stroke-width="1.2"/><circle cx="1232" cy="994.4" r="7.5" fill="#edc948" stroke="#fff" stroke-width="1.2"/><circle cx="1210.1" cy="1006.5" r="7.5" fill="#edc948" stroke="#fff" stroke-width="1.2"/><circle cx="1229.4" cy="1008.9" r="7.5" fill="#edc948" stroke="#fff" stroke-width="1.2"/><circle cx="1220.1" cy="1010.5" r="7.5" fill="#edc948" stroke="#fff" stroke-width="1.2"/><circle cx="1243.8" cy="982.3" r="7.5" fill="#edc948" stroke="#fff" stroke-width="1.2"/><circle cx="1259.8" cy="981" r="7.5" fill="#edc948" stroke="#fff" stroke-width="1.2"/><circle cx="1256" cy="997" r="7.5" fill="#edc948" stroke="#fff" stroke-width="1.2"/><circle cx="1247.3" cy="1003.3" r="7.5" fill="#edc948" stroke="#fff" stroke-width="1.2"/><circle cx="1252" cy="1007.4" r="7.5" fill="#edc948" stroke="#fff" stroke-width="1.2"/><circle cx="1264.4" cy="1006.3" r="7.5" fill="#edc948" stroke="#fff" stroke-width="1.2"/><circle cx="1273.2" cy="1010.7" r="7.5" fill="#edc948" stroke="#fff" stroke-width="1.2"/><circle cx="1277.2" cy="1000.1" r="7.5" fill="#edc948" stroke="#fff" stroke-width="1.2"/><circle cx="1281.3" cy="1004.7" r="7.5" fill="#edc948" stroke="#fff" stroke-width="1.2"/><circle cx="1285.2" cy="991.3" r="7.5" fill="#edc948" stroke="#fff" stroke-width="1.2"/><circle cx="1291" cy="1009.5" r="7.5" fill="#edc948" stroke="#fff" stroke-width="1.2"/><circle cx="1297.4" cy="1000.1" r="7.5" fill="#edc948" stroke="#fff" stroke-width="1.2"/><circle cx="1301.5" cy="1009" r="7.5" fill="#edc948" stroke="#fff" stroke-width="1.2"/><circle cx="1383.9" cy="900" r="7.5" fill="#4e79a7" stroke="#fff" stroke-width="1.2"/><circle cx="1403.9" cy="946.3" r="7.5" fill="#4e79a7" stroke="#fff" stroke-width="1.2"/><circle cx="1388" cy="965.1" r="7.5" fill="#4e79a7" stroke="#fff" stroke-width="1.2"/><circle cx="1482.5" cy="930.4" r="7.5" fill="#4e79a7" stroke="#fff" stroke-width="1.2"/><circle cx="1449.2" cy="939.6" r="7.5" fill="#4e79a7" stroke="#fff" stroke-width="1.2"/><circle cx="1336" cy="977.6" r="7.5" fill="#4e79a7" stroke="#fff" stroke-width="1.2"/><circle cx="1346.5" cy="976.8" r="7.5" fill="#4e79a7" stroke="#fff" stroke-width="1.2"/><circle cx="1330.5" cy="981" r="7.5" fill="#4e79a7" stroke="#fff" stroke-width="1.2"/><circle cx="1326.5" cy="989.5" r="7.5" fill="#4e79a7" stroke="#fff" stroke-width="1.2"/><circle cx="1316.8" cy="997.8" r="7.5" fill="#4e79a7" stroke="#fff" stroke-width="1.2"/><circle cx="1309.2" cy="998" r="7.5" fill="#4e79a7" stroke="#fff" stroke-width="1.2"/><circle cx="1322.8" cy="1011" r="7.5" fill="#4e79a7" stroke="#fff" stroke-width="1.2"/><circle cx="1318.9" cy="1007.6" r="7.5" fill="#4e79a7" stroke="#fff" stroke-width="1.2"/><circle cx="1337.6" cy="1007.2" r="7.5" fill="#4e79a7" stroke="#fff" stroke-width="1.2"/><circle cx="1342.4" cy="1007.7" r="7.5" fill="#4e79a7" stroke="#fff" stroke-width="1.2"/><circle cx="1349.6" cy="1002.3" r="7.5" fill="#4e79a7" stroke="#fff" stroke-width="1.2"/><circle cx="1356.8" cy="999.1" r="7.5" fill="#4e79a7" stroke="#fff" stroke-width="1.2"/><circle cx="1354.4" cy="1010.8" r="7.5" fill="#4e79a7" stroke="#fff" stroke-width="1.2"/><circle cx="1367.8" cy="1006.6" r="7.5" fill="#4e79a7" stroke="#fff" stroke-width="1.2"/><circle cx="1371.6" cy="1010.3" r="7.5" fill="#4e79a7" stroke="#fff" stroke-width="1.2"/><circle cx="1376" cy="1003.4" r="7.5" fill="#4e79a7" stroke="#fff" stroke-width="1.2"/><circle cx="1380" cy="1004.3" r="7.5" fill="#4e79a7" stroke="#fff" stroke-width="1.2"/><circle cx="1382" cy="1006.3" r="7.5" fill="#4e79a7" stroke="#fff" stroke-width="1.2"/><circle cx="1392" cy="1003.8" r="7.5" fill="#4e79a7" stroke="#fff" stroke-width="1.2"/><circle cx="1398" cy="1007.8" r="7.5" fill="#4e79a7" stroke="#fff" stroke-width="1.2"/><circle cx="1409.1" cy="1009.3" r="7.5" fill="#4e79a7" stroke="#fff" stroke-width="1.2"/><circle cx="1421.1" cy="1003.3" r="7.5" fill="#4e79a7" stroke="#fff" stroke-width="1.2"/><circle cx="1425.1" cy="1009.8" r="7.5" fill="#4e79a7" stroke="#fff" stroke-width="1.2"/><circle cx="1429.1" cy="1006.3" r="7.5" fill="#4e79a7" stroke="#fff" stroke-width="1.2"/><circle cx="1436.1" cy="1008.3" r="7.5" fill="#4e79a7" stroke="#fff" stroke-width="1.2"/><circle cx="1445.2" cy="1009.3" r="7.5" fill="#4e79a7" stroke="#fff" stroke-width="1.2"/><circle cx="1441.2" cy="987.5" r="7.5" fill="#4e79a7" stroke="#fff" stroke-width="1.2"/><circle cx="1454.2" cy="1007.8" r="7.5" fill="#4e79a7" stroke="#fff" stroke-width="1.2"/><circle cx="1462.4" cy="1009.3" r="7.5" fill="#4e79a7" stroke="#fff" stroke-width="1.2"/><circle cx="1465.7" cy="997.7" r="7.5" fill="#4e79a7" stroke="#fff" stroke-width="1.2"/><circle cx="1470.2" cy="1008.8" r="7.5" fill="#4e79a7" stroke="#fff" stroke-width="1.2"/><circle cx="1474.5" cy="992.7" r="7.5" fill="#4e79a7" stroke="#fff" stroke-width="1.2"/><circle cx="1478.7" cy="1009.8" r="7.5" fill="#4e79a7" stroke="#fff" stroke-width="1.2"/><circle cx="1487.3" cy="1005.8" r="7.5" fill="#4e79a7" stroke="#fff" stroke-width="1.2"/><text x="656.5" y="1018.50" text-anchor="end" font-size="16.1" fill="#777">$0K</text><text x="656.5" y="925.90" text-anchor="end" font-size="16.1" fill="#777">$10K</text><text x="656.5" y="833.30" text-anchor="end" font-size="16.1" fill="#777">$20K</text><text x="656.5" y="740.70" text-anchor="end" font-size="16.1" fill="#777">$30K</text><text x="656.5" y="648.10" text-anchor="end" font-size="16.1" fill="#777">$40K</text><text x="656.5" y="555.50" text-anchor="end" font-size="16.1" fill="#777">$50K</text><text x="656.5" y="462.90" text-anchor="end" font-size="16.1" fill="#777">$60K</text><text x="656.5" y="370.30" text-anchor="end" font-size="16.1" fill="#777">$70K</text><text x="656.5" y="277.70" text-anchor="end" font-size="16.1" fill="#777">$80K</text><text x="709.10" y="1084.2" text-anchor="middle" font-size="16.5" fill="#777">0</text><text x="791.39" y="1084.2" text-anchor="middle" font-size="16.5" fill="#777">20</text><text x="873.68" y="1084.2" text-anchor="middle" font-size="16.5" fill="#777">40</text><text x="955.97" y="1084.2" text-anchor="middle" font-size="16.5" fill="#777">60</text><text x="1038.26" y="1084.2" text-anchor="middle" font-size="16.5" fill="#777">80</text><text x="1120.55" y="1084.2" text-anchor="middle" font-size="16.5" fill="#777">100</text><text x="1202.84" y="1084.2" text-anchor="middle" font-size="16.5" fill="#777">120</text><text x="1285.13" y="1084.2" text-anchor="middle" font-size="16.5" fill="#777">140</text><text x="1367.42" y="1084.2" text-anchor="middle" font-size="16.5" fill="#777">160</text><text x="1449.71" y="1084.2" text-anchor="middle" font-size="16.5" fill="#777">180</text><text x="1530" y="1084.2" text-anchor="end" font-size="16.5" fill="#777">200</text><text x="889.6" y="1115.7" font-size="16.96" fill="#333" stroke="#333" stroke-width="0.45">Ease of biz index (1=most business-friendly regulations)</text><text transform="translate(591.7,622.3) rotate(-90)" text-anchor="middle" font-size="15.81" fill="#333" stroke="#333" stroke-width="0.45">GDP per Capita</text><text transform="translate(925.0,194.5) rotate(-90)" text-anchor="end" font-size="16.9" fill="#7a7a7a">Lower Quartile</text><text transform="translate(1112.2,194.5) rotate(-90)" text-anchor="end" font-size="16.65" fill="#7a7a7a">Median</text><text transform="translate(1314.7,194.5) rotate(-90)" text-anchor="end" font-size="16.99" fill="#7a7a7a">Upper Quartile</text><path d="M713.21,526.99 L713.29,528.61 L713.36,530.24 L713.44,531.87 L713.52,533.49 L713.60,535.12 L713.68,536.75 L713.76,538.38 L713.84,540.00 L713.93,541.63 L714.01,543.26 L714.10,544.89 L714.19,546.51 L714.28,548.14 L714.37,549.77 L714.47,551.39 L714.56,553.02 L714.66,554.65 L714.76,556.28 L714.86,557.90 L714.96,559.53 L715.07,561.16 L715.18,562.79 L715.28,564.41 L715.40,566.04 L715.51,567.67 L715.62,569.29 L715.74,570.92 L715.86,572.55 L715.98,574.18 L716.10,575.80 L716.23,577.43 L716.35,579.06 L716.48,580.69 L716.62,582.31 L716.75,583.94 L716.89,585.57 L717.03,587.19 L717.17,588.82 L717.31,590.45 L717.46,592.08 L717.61,593.70 L717.76,595.33 L717.92,596.96 L718.07,598.59 L718.23,600.21 L718.40,601.84 L718.56,603.47 L718.73,605.09 L718.90,606.72 L719.08,608.35 L719.26,609.98 L719.44,611.60 L719.62,613.23 L719.81,614.86 L720.00,616.49 L720.20,618.11 L720.40,619.74 L720.60,621.37 L720.80,622.99 L721.01,624.62 L721.23,626.25 L721.44,627.88 L721.66,629.50 L721.89,631.13 L722.12,632.76 L722.35,634.38 L722.59,636.01 L722.83,637.64 L723.07,639.27 L723.32,640.89 L723.58,642.52 L723.84,644.15 L724.10,645.78 L724.37,647.40 L724.64,649.03 L724.92,650.66 L725.20,652.28 L725.49,653.91 L725.78,655.54 L726.08,657.17 L726.39,658.79 L726.69,660.42 L727.01,662.05 L727.33,663.68 L727.65,665.30 L727.99,666.93 L728.32,668.56 L728.67,670.18 L729.02,671.81 L729.37,673.44 L729.74,675.07 L730.11,676.69 L730.48,678.32 L730.86,679.95 L731.25,681.58 L731.65,683.20 L732.05,684.83 L732.46,686.46 L732.88,688.08 L733.30,689.71 L733.74,691.34 L734.18,692.97 L734.63,694.59 L735.08,696.22 L735.55,697.85 L736.02,699.48 L736.50,701.10 L736.99,702.73 L737.49,704.36 L738.00,705.98 L738.51,707.61 L739.04,709.24 L739.57,710.87 L740.12,712.49 L740.67,714.12 L741.24,715.75 L741.81,717.37 L742.40,719.00 L742.99,720.63 L743.60,722.26 L744.22,723.88 L744.84,725.51 L745.48,727.14 L746.13,728.77 L746.80,730.39 L747.47,732.02 L748.16,733.65 L748.85,735.27 L749.56,736.90 L750.29,738.53 L751.02,740.16 L751.77,741.78 L752.54,743.41 L753.31,745.04 L754.10,746.67 L754.91,748.29 L755.73,749.92 L756.56,751.55 L757.41,753.17 L758.27,754.80 L759.15,756.43 L760.05,758.06 L760.96,759.68 L761.88,761.31 L762.83,762.94 L763.79,764.57 L764.77,766.19 L765.76,767.82 L766.77,769.45 L767.81,771.07 L768.86,772.70 L769.92,774.33 L771.01,775.96 L772.12,777.58 L773.24,779.21 L774.39,780.84 L775.56,782.47 L776.75,784.09 L777.96,785.72 L779.19,787.35 L780.44,788.97 L781.72,790.60 L783.01,792.23 L784.34,793.86 L785.68,795.48 L787.05,797.11 L788.44,798.74 L789.86,800.37 L791.31,801.99 L792.77,803.62 L794.27,805.25 L795.79,806.87 L797.34,808.50 L798.92,810.13 L800.53,811.76 L802.16,813.38 L803.83,815.01 L805.52,816.64 L807.24,818.26 L809.00,819.89 L810.78,821.52 L812.60,823.15 L814.45,824.77 L816.33,826.40 L818.25,828.03 L820.20,829.66 L822.19,831.28 L824.21,832.91 L826.27,834.54 L828.36,836.16 L830.50,837.79 L832.67,839.42 L834.88,841.05 L837.12,842.67 L839.41,844.30 L841.74,845.93 L844.11,847.56 L846.53,849.18 L848.99,850.81 L851.49,852.44 L854.03,854.06 L856.62,855.69 L859.26,857.32 L861.94,858.95 L864.68,860.57 L867.46,862.20 L870.29,863.83 L873.17,865.46 L876.10,867.08 L879.09,868.71 L882.13,870.34 L885.22,871.96 L888.37,873.59 L891.58,875.22 L894.84,876.85 L898.16,878.47 L901.54,880.10 L904.98,881.73 L908.48,883.36 L912.05,884.98 L915.68,886.61 L919.37,888.24 L923.13,889.86 L926.95,891.49 L930.85,893.12 L934.81,894.75 L938.85,896.37 L942.96,898.00 L947.14,899.63 L951.39,901.25 L955.72,902.88 L960.13,904.51 L964.62,906.14 L969.19,907.76 L973.84,909.39 L978.57,911.02 L983.39,912.65 L988.29,914.27 L993.29,915.90 L998.37,917.53 L1003.54,919.15 L1008.80,920.78 L1014.16,922.41 L1019.61,924.04 L1025.17,925.66 L1030.82,927.29 L1036.57,928.92 L1042.42,930.55 L1048.38,932.17 L1054.45,933.80 L1060.62,935.43 L1066.91,937.05 L1073.30,938.68 L1079.81,940.31 L1086.44,941.94 L1093.19,943.56 L1100.05,945.19 L1107.04,946.82 L1114.16,948.45 L1121.40,950.07 L1128.77,951.70 L1136.27,953.33 L1143.91,954.95 L1151.68,956.58 L1159.60,958.21 L1167.65,959.84 L1175.85,961.46 L1184.19,963.09 L1192.69,964.72 L1201.33,966.35 L1210.13,967.97 L1219.09,969.60 L1228.21,971.23 L1237.49,972.85 L1246.93,974.48 L1256.55,976.11 L1266.34,977.74 L1276.30,979.36 L1286.44,980.99 L1296.76,982.62 L1307.27,984.24 L1317.96,985.87 L1328.85,987.50 L1339.93,989.13 L1351.21,990.75 L1362.69,992.38 L1374.37,994.01 L1386.26,995.64 L1398.37,997.26 L1410.69,998.89 L1423.24,1000.52 L1436.00,1002.14 L1449.00,1003.77 L1462.23,1005.40 L1475.69,1007.03 L1489.40,1008.65 L1503.35,1010.28 L1517.55,1011.91 L1532.00,1013.54" fill="none" stroke="#000" stroke-opacity="0.44" stroke-width="2.4" stroke-dasharray="13 3.8"/><line x1="905.1" y1="190" x2="905.1" y2="1056.8" stroke="#cccccc" stroke-width="2.2"/><line x1="1093.3" y1="190" x2="1093.3" y2="1056.8" stroke="#cccccc" stroke-width="2.2"/><line x1="1294.5" y1="190" x2="1294.5" y2="1056.8" stroke="#cccccc" stroke-width="2.2"/></svg><svg style="position:absolute;left:0;top:0;overflow:visible" width="2000" height="1277" viewBox="0 0 2000 1277"><rect x="61.6" y="58.25" width="9.2" height="1.9" fill="#e8762c"/><rect x="65.25" y="54.6" width="1.9" height="9.2" fill="#e8762c"/><rect x="57.400000000000006" y="53.2" width="6.6" height="1.6" fill="#f1a340"/><rect x="59.900000000000006" y="50.7" width="1.6" height="6.6" fill="#f1a340"/><rect x="68.2" y="53.2" width="6.6" height="1.6" fill="#5b87b8"/><rect x="70.7" y="50.7" width="1.6" height="6.6" fill="#5b87b8"/><rect x="57.7" y="63.900000000000006" width="6.6" height="1.6" fill="#d1364f"/><rect x="60.2" y="61.400000000000006" width="1.6" height="6.6" fill="#d1364f"/><rect x="68.2" y="63.900000000000006" width="6.6" height="1.6" fill="#1f4e7a"/><rect x="70.7" y="61.400000000000006" width="1.6" height="6.6" fill="#1f4e7a"/><rect x="64.2" y="49.699999999999996" width="4.0" height="1.2" fill="#7a9fc7"/><rect x="65.60000000000001" y="48.3" width="1.2" height="4.0" fill="#7a9fc7"/><rect x="55.5" y="58.6" width="4.0" height="1.2" fill="#6f95c0"/><rect x="56.9" y="57.2" width="1.2" height="4.0" fill="#6f95c0"/><rect x="72.9" y="58.6" width="4.0" height="1.2" fill="#7b5b8a"/><rect x="74.30000000000001" y="57.2" width="1.2" height="4.0" fill="#7b5b8a"/><rect x="64.2" y="67.4" width="4.0" height="1.2" fill="#8aa6c8"/><rect x="65.60000000000001" y="66.0" width="1.2" height="4.0" fill="#8aa6c8"/><path d="M138.5,59.2 L117.5,59.2 M127.5,49.2 L117.5,59.2 L127.5,69.2" fill="none" stroke="#6a6a6a" stroke-width="2.8" stroke-linecap="round" stroke-linejoin="round"/><path d="M159.5,59.2 L180.5,59.2 M170.5,49.2 L180.5,59.2 L170.5,69.2" fill="none" stroke="#ababab" stroke-width="2.8" stroke-linecap="round" stroke-linejoin="round"/><path d="M214,54.5 L201.5,54.5 Q197,54.5 197,59 Q197,63.5 201.5,63.5 L218.5,63.5 Q223,63.5 223,59 Q223,56.5 220.5,55.2" fill="none" stroke="#c9c9c9" stroke-width="1.5"/><path d="M215,51.5 L218.5,54.5 L215,57.5" fill="none" stroke="#c9c9c9" stroke-width="1.5"/><path d="M233.75,57.7 L240.25,57.7 L237,61.3 Z" fill="#c0c0c0"/><rect x="256.5" y="49.5" width="19.5" height="19.5" rx="1" fill="none" stroke="#6a6a6a" stroke-width="1.5"/><rect x="260" y="63" width="9.5" height="6" fill="none" stroke="#6a6a6a" stroke-width="1.3"/><rect x="262.2" y="65.3" width="2.6" height="3.7" fill="#555"/><path d="M300,52.5 L300,66 Q300,69 307,69 M314,52.5 L314,60" fill="none" stroke="#6a6a6a" stroke-width="1.4"/><ellipse cx="307" cy="52.5" rx="7" ry="3" fill="none" stroke="#6a6a6a" stroke-width="1.4"/><path d="M313.8,62 L313.8,71.5 M309,66.7 L318.6,66.7" stroke="#2e2e2e" stroke-width="2.6"/><path d="M341,52.5 L341,66 Q341,69 348,69 M355,52.5 L355,60" fill="none" stroke="#6a6a6a" stroke-width="1.4"/><ellipse cx="348" cy="52.5" rx="7" ry="3" fill="none" stroke="#6a6a6a" stroke-width="1.4"/><rect x="350.4" y="63" width="2.4" height="8.5" fill="#2e2e2e"/><rect x="354.6" y="63" width="2.4" height="8.5" fill="#2e2e2e"/><path d="M372.8,57.5 L379.8,57.5 L376.3,61.5 Z" fill="#666"/><path d="M410.5,58 A9.3,9.3 0 0 0 392.5,57" fill="none" stroke="#c2c2c2" stroke-width="1.5"/><path d="M392.5,61 A9.3,9.3 0 0 0 410.5,61.5" fill="none" stroke="#c2c2c2" stroke-width="1.5"/><path d="M408,55 L411,59.5 L413.5,55" fill="#c2c2c2"/><path d="M390,63.5 L392.5,59 L395.5,63.5" fill="#c2c2c2"/><path d="M425.8,57.5 L432.8,57.5 L429.3,61.5 Z" fill="#c2c2c2"/><path d="M475.5,67.4 L462,67.4 L462,47.6 L481.8,47.6 L481.8,60.6" fill="none" stroke="#6a6a6a" stroke-width="1.4"/><rect x="466" y="58.900000000000006" width="2" height="4.9" fill="#666"/><rect x="471" y="52.1" width="2" height="11.7" fill="#666"/><rect x="475.7" y="55.300000000000004" width="2" height="8.5" fill="#666"/><path d="M481.6,61.8 L481.6,71.5 M476.8,66.7 L486.4,66.7" stroke="#2e2e2e" stroke-width="2.6"/><path d="M498.09999999999997,57.75 L505.3,57.75 L501.7,61.75 Z" fill="#666"/><path d="M520,55.7 L518.8,55.7 L518.8,69.7 L535.9,69.7 L535.9,62" fill="none" stroke="#6a6a6a" stroke-width="1.4"/><rect x="524.6" y="47.6" width="17.6" height="14" rx="1" fill="#f4f4f4" stroke="#6a6a6a" stroke-width="1.4"/><rect x="528.1" y="53" width="2" height="5" fill="#666"/><rect x="532.6" y="50.8" width="2" height="7.2" fill="#666"/><rect x="536.7" y="52.5" width="2" height="5.5" fill="#666"/><rect x="522.3" y="64.2" width="2" height="2.4" fill="#666"/><rect x="526.3" y="64.2" width="2" height="2.4" fill="#666"/><rect x="530.4" y="64.2" width="2" height="2.4" fill="#666"/><path d="M572.3,67.4 L558.8,67.4 L558.8,47.6 L578.5999999999999,47.6 L578.5999999999999,60.6" fill="none" stroke="#6a6a6a" stroke-width="1.4"/><rect x="562.8" y="58.900000000000006" width="2" height="4.9" fill="#666"/><rect x="567.8" y="52.1" width="2" height="11.7" fill="#666"/><rect x="572.5" y="55.300000000000004" width="2" height="8.5" fill="#666"/><path d="M573.5,62.5 L581.9,71 M581.9,62.5 L573.5,71" stroke="#2e2e2e" stroke-width="2.6"/><path d="M594.1,57.75 L601.3000000000001,57.75 L597.7,61.75 Z" fill="#666"/><rect x="634.0" y="49.0" width="4.4" height="4.4" rx="0.8" fill="none" stroke="#666" stroke-width="1.3"/><rect x="641.3" y="49.0" width="4.4" height="4.4" rx="0.8" fill="none" stroke="#666" stroke-width="1.3"/><rect x="648.8" y="49.0" width="4.4" height="4.4" rx="0.8" fill="none" stroke="#666" stroke-width="1.3"/><rect x="634.0" y="56.3" width="4.4" height="4.4" rx="0.8" fill="none" stroke="#666" stroke-width="1.3"/><rect x="634.0" y="63.7" width="4.4" height="4.4" rx="0.8" fill="none" stroke="#666" stroke-width="1.3"/><path d="M644.5,68.5 Q652.5,66 654.5,57.5" fill="none" stroke="#666" stroke-width="1.4"/><path d="M651.8,58.5 L655,54.5 L657,59.2 Z" fill="#666"/><path d="M646.5,66 L642.5,69 L647.3,70.8 Z" fill="#666"/><path d="M678.3,50 L678.3,67" stroke="#bdbdbd" stroke-width="1.2"/><path d="M676,64.5 L678.3,68 L680.6,64.5" fill="#bdbdbd"/><rect x="683.8" y="50.3" width="5.900000000000091" height="3.4000000000000057" rx="1" fill="none" stroke="#bdbdbd" stroke-width="1.2"/><rect x="683.8" y="56.8" width="11.0" height="3.700000000000003" rx="1" fill="none" stroke="#bdbdbd" stroke-width="1.2"/><rect x="683.8" y="63.6" width="15.800000000000068" height="3.999999999999993" rx="1" fill="none" stroke="#bdbdbd" stroke-width="1.2"/><path d="M721.2,50 L721.2,67" stroke="#bdbdbd" stroke-width="1.2"/><path d="M718.9,64.5 L721.2,68 L723.5,64.5" fill="#bdbdbd"/><rect x="726.3" y="50.3" width="15.800000000000068" height="3.4000000000000057" rx="1" fill="none" stroke="#bdbdbd" stroke-width="1.2"/><rect x="726.3" y="56.8" width="11.0" height="3.700000000000003" rx="1" fill="none" stroke="#bdbdbd" stroke-width="1.2"/><rect x="726.3" y="63.6" width="6.2000000000000455" height="3.999999999999993" rx="1" fill="none" stroke="#bdbdbd" stroke-width="1.2"/><path d="M787,66 L794.5,50.5 Q796,49.5 797.5,50.5 L799,51.5 Q799.5,53 799,54 L791.5,68 L787,66.5 Z" fill="none" stroke="#555" stroke-width="1.4" stroke-linejoin="round"/><path d="M784.5,70.3 L798.5,70.3" stroke="#555" stroke-width="2"/><path d="M786.5,66 L785.5,69" stroke="#555" stroke-width="1.4"/><path d="M811.6,57.7 L818.8000000000001,57.7 L815.2,61.7 Z" fill="#666"/><path d="M846,55 L838.5,66.5 Q836.5,70 839.5,71 Q842,71.8 843.8,68.5 L851,56 Q853,51.5 849.5,50 Q846,49 843.8,52.5 L837.5,63" fill="none" stroke="#c4c4c4" stroke-width="1.4" stroke-linecap="round"/><path d="M865.1,57.7 L872.1,57.7 L868.6,61.7 Z" fill="#c4c4c4"/><rect x="887.5" y="49.7" width="21.7" height="17.5" rx="1" fill="none" stroke="#777" stroke-width="1.1" stroke-dasharray="2 1.6"/><text x="898.3" y="64.3" text-anchor="middle" font-family="Liberation Serif" font-size="15" fill="#555">T</text><path d="M939.1,49.6 L948.5,54.6 L944.5,56.5 L942.2,61.9 L943.3,65.9 L933,60.9 L937.5,59 L940,53.4 Z" fill="none" stroke="#606060" stroke-width="1.5" stroke-linejoin="round"/><path d="M937.5,63.7 L934.9,68.9" stroke="#606060" stroke-width="1.6" stroke-linecap="round"/><path d="M1087.2,57.25 L1095.2,57.25 L1091.2,61.75 Z" fill="#333"/><rect x="1141.8" y="50.5" width="5.6" height="3.8999999999999986" rx="1.2" fill="none" stroke="#666" stroke-width="1.3"/><rect x="1141.8" y="57.3" width="5.6" height="4.0" rx="1.2" fill="none" stroke="#666" stroke-width="1.3"/><rect x="1141.8" y="64" width="5.6" height="4.299999999999997" rx="1.2" fill="none" stroke="#666" stroke-width="1.3"/><rect x="1149.9" y="50.4" width="16.9" height="18" rx="1" fill="none" stroke="#666" stroke-width="1.4"/><rect x="1153" y="60.2" width="2" height="4.5" fill="#666"/><rect x="1157.3" y="53.9" width="2" height="10.8" fill="#666"/><rect x="1161.3" y="56.4" width="2" height="8.3" fill="#666"/><path d="M1174.2,57.3 L1181.3999999999999,57.3 L1177.8,61.3 Z" fill="#666"/><path d="M1196.8,51.8 L1219.2,51.8" stroke="#555" stroke-width="2.2"/><path d="M1207.8,49 L1207.8,51" stroke="#555" stroke-width="1.3"/><rect x="1199.3" y="52.6" width="17.5" height="11" rx="1" fill="none" stroke="#666" stroke-width="1.4"/><path d="M1207.8,63.6 L1207.8,69.4 M1203.3,69.4 L1212.5,69.4" stroke="#666" stroke-width="1.4"/><path d="M1266.8,57.6 L1271.7,54.3 M1266.8,61 L1271.7,64.3" stroke="#555" stroke-width="1.5"/><circle cx="1274.5" cy="52.6" r="3.4" fill="none" stroke="#555" stroke-width="1.6"/><circle cx="1263.9" cy="59.3" r="3.4" fill="none" stroke="#555" stroke-width="1.6"/><circle cx="1274.5" cy="66" r="3.4" fill="none" stroke="#555" stroke-width="1.6"/><rect x="1821.3" y="49.5" width="16.4" height="3.3" fill="#8a6f9c"/><rect x="1821.3" y="55" width="21.4" height="3.3" fill="#7ea3cb"/><rect x="1821.3" y="60.5" width="8.6" height="3.3" fill="#eda85f"/><rect x="1821.3" y="66" width="12.7" height="3.3" fill="#ef6a80"/><rect x="62.2" y="188.1" width="2.5" height="2.0" fill="#555"/><rect x="67.8" y="185.6" width="2.5" height="4.5" fill="#555"/><rect x="72.9" y="182.79999999999998" width="2.5" height="7.3" fill="#555"/><rect x="62.2" y="192.1" width="13.2" height="1" fill="#777"/><rect x="62.2" y="195.4" width="2.5" height="2.2" fill="#555"/><rect x="67.8" y="195.4" width="2.5" height="2.2" fill="#555"/><rect x="72.9" y="195.4" width="2.5" height="2.2" fill="#555"/><rect x="62.2" y="214.82" width="2.5" height="2.0" fill="#555"/><rect x="67.8" y="212.32" width="2.5" height="4.5" fill="#555"/><rect x="72.9" y="209.51999999999998" width="2.5" height="7.3" fill="#555"/><rect x="62.2" y="218.82" width="13.2" height="1" fill="#777"/><rect x="62.2" y="222.12" width="2.5" height="2.2" fill="#555"/><rect x="67.8" y="222.12" width="2.5" height="2.2" fill="#555"/><rect x="72.9" y="222.12" width="2.5" height="2.2" fill="#555"/><rect x="60" y="238.54" width="17.8" height="10.4" rx="2" fill="none" stroke="#666" stroke-width="1.4"/><path d="M60 243.54 L77.8 243.54" stroke="#666" stroke-width="1.2"/><rect x="67.5" y="240.44" width="2.4" height="1.4" fill="#666"/><rect x="73.2" y="240.44" width="2.4" height="1.4" fill="#666"/><rect x="62.5" y="245.54" width="2.4" height="1.4" fill="#666"/><circle cx="63.7" cy="249.14" r="1.3" fill="#666"/><rect x="67.5" y="245.54" width="2.4" height="1.4" fill="#666"/><circle cx="68.7" cy="249.14" r="1.3" fill="#666"/><rect x="73.2" y="245.54" width="2.4" height="1.4" fill="#666"/><circle cx="74.4" cy="249.14" r="1.3" fill="#666"/><circle cx="75.5" cy="238.34" r="1.3" fill="#666"/><path d="M65.7 262.96 L72.3 262.96 M69 262.96 L69 265.56 M69 273.15999999999997 L69 276.76 M65.7 276.76 L72.3 276.76" stroke="#666" stroke-width="1.2"/><rect x="63.2" y="265.56" width="11.4" height="7.6" rx="1.6" fill="none" stroke="#666" stroke-width="1.4"/><rect x="63.2" y="289.98" width="11.4" height="13.5" rx="1.2" fill="none" stroke="#c4c4c4" stroke-width="1.3"/><rect x="63.2" y="300.18" width="11.4" height="3.3" fill="#c4c4c4"/><rect x="60" y="386.4" width="17.8" height="10.4" rx="2" fill="none" stroke="#666" stroke-width="1.4"/><path d="M60 391.4 L77.8 391.4" stroke="#666" stroke-width="1.2"/><rect x="67.5" y="388.29999999999995" width="2.4" height="1.4" fill="#666"/><rect x="73.2" y="388.29999999999995" width="2.4" height="1.4" fill="#666"/><rect x="62.5" y="393.4" width="2.4" height="1.4" fill="#666"/><circle cx="63.7" cy="397.0" r="1.3" fill="#666"/><rect x="67.5" y="393.4" width="2.4" height="1.4" fill="#666"/><circle cx="68.7" cy="397.0" r="1.3" fill="#666"/><rect x="73.2" y="393.4" width="2.4" height="1.4" fill="#666"/><circle cx="74.4" cy="397.0" r="1.3" fill="#666"/><circle cx="75.5" cy="386.2" r="1.3" fill="#666"/><rect x="60" y="413.11999999999995" width="17.8" height="10.4" rx="2" fill="none" stroke="#666" stroke-width="1.4"/><path d="M60 418.11999999999995 L77.8 418.11999999999995" stroke="#666" stroke-width="1.2"/><rect x="67.5" y="415.0199999999999" width="2.4" height="1.4" fill="#666"/><rect x="73.2" y="415.0199999999999" width="2.4" height="1.4" fill="#666"/><rect x="62.5" y="420.11999999999995" width="2.4" height="1.4" fill="#666"/><circle cx="63.7" cy="423.71999999999997" r="1.3" fill="#666"/><rect x="67.5" y="420.11999999999995" width="2.4" height="1.4" fill="#666"/><circle cx="68.7" cy="423.71999999999997" r="1.3" fill="#666"/><rect x="73.2" y="420.11999999999995" width="2.4" height="1.4" fill="#666"/><circle cx="74.4" cy="423.71999999999997" r="1.3" fill="#666"/><circle cx="75.5" cy="412.91999999999996" r="1.3" fill="#666"/><path d="M61.7 438.14 L61.7 451.64 L75.9 451.64" fill="none" stroke="#666" stroke-width="1.3"/><path d="M64.5 448.14 L75.9 437.64" stroke="#666" stroke-width="1.1"/><circle cx="65.3" cy="442.84" r="1.2" fill="#666"/><circle cx="69.6" cy="438.73999999999995" r="1.2" fill="#666"/><circle cx="73.3" cy="446.94" r="1.2" fill="#666"/><path d="M62.5 476.56 L70.5 468.56 L67 465.06 L75.8 465.06 L75.8 473.86 L72.3 470.36 L64.3 478.36 Z" fill="none" stroke="#c4c4c4" stroke-width="1.1" stroke-linejoin="round"/><path d="M61.7 491.58 L61.7 505.08 L75.9 505.08" fill="none" stroke="#666" stroke-width="1.3"/><path d="M64.5 502.78 L70.5 496.78 L70.8 491.47999999999996 M70.5 496.78 L75.5 496.78" fill="none" stroke="#666" stroke-width="1.1"/><circle cx="64.8" cy="496.28" r="1.2" fill="#666"/><circle cx="74.2" cy="492.67999999999995" r="1.2" fill="#666"/><circle cx="71.8" cy="501.38" r="1.2" fill="#666"/><rect x="62.2" y="590.8000000000001" width="2.5" height="2.0" fill="#555"/><rect x="67.8" y="588.3000000000001" width="2.5" height="4.5" fill="#555"/><rect x="72.9" y="585.5000000000001" width="2.5" height="7.3" fill="#555"/><rect x="62.2" y="594.8000000000001" width="13.2" height="1" fill="#777"/><rect x="62.2" y="598.1" width="2.5" height="2.2" fill="#555"/><rect x="67.8" y="598.1" width="2.5" height="2.2" fill="#555"/><rect x="72.9" y="598.1" width="2.5" height="2.2" fill="#555"/><rect x="60" y="615.9200000000001" width="17.8" height="7.6" rx="1.8" fill="none" stroke="#666" stroke-width="1.4"/><circle cx="63.7" cy="619.5200000000001" r="1.2" fill="#666"/><rect x="62.5" y="623.5200000000001" width="2.4" height="2.8" fill="#666"/><circle cx="69" cy="619.5200000000001" r="1.2" fill="#666"/><rect x="67.8" y="623.5200000000001" width="2.4" height="2.8" fill="#666"/><circle cx="74.3" cy="619.5200000000001" r="1.2" fill="#666"/><rect x="73.1" y="623.5200000000001" width="2.4" height="2.8" fill="#666"/><rect x="73.1" y="612.32" width="2.4" height="3.6" fill="#666"/><circle cx="69" cy="615.5200000000001" r="1.1" fill="#666"/><rect x="60" y="640.24" width="17.8" height="11.3" rx="1.8" fill="none" stroke="#666" stroke-width="1.4"/><circle cx="63.7" cy="648.44" r="1.3" fill="#666"/><rect x="67.8" y="644.24" width="2.4" height="5.4" fill="#666"/><rect x="73.1" y="642.24" width="2.4" height="7.4" fill="#666"/><circle cx="63.7" cy="651.84" r="1.2" fill="#666"/><circle cx="69" cy="651.84" r="1.2" fill="#666"/><circle cx="74.3" cy="651.84" r="1.2" fill="#666"/><circle cx="74.3" cy="640.24" r="1.1" fill="#666"/><path d="M65.7 665.6600000000001 L72.3 665.6600000000001 M69 665.6600000000001 L69 668.26 M69 675.86 L69 679.46 M65.7 679.46 L72.3 679.46" stroke="#666" stroke-width="1.2"/><rect x="63.2" y="668.26" width="11.4" height="7.6" rx="1.6" fill="none" stroke="#666" stroke-width="1.4"/><circle cx="355.3" cy="350.2" r="5.9" fill="none" stroke="#7a7a7a" stroke-width="1.2"/><path d="M517.0,348.5 L526.0,348.5 L521.5,353.5 Z" fill="#555"/><circle cx="357.3" cy="386.3" r="3.6" fill="#7f69a0"/><circle cx="366.7" cy="386.3" r="3.6" fill="#ee6b80"/><circle cx="357.3" cy="395.75" r="3.6" fill="#efa862"/><circle cx="366.7" cy="395.75" r="3.6" fill="#7ca2cc"/><circle cx="434.1" cy="390.05" r="8.1" fill="none" stroke="#666" stroke-width="1.2"/><circle cx="428.55" cy="395.1" r="4.6" fill="#fbfbfb" stroke="#666" stroke-width="1.2"/><rect x="493.3" y="383.8" width="18.5" height="15.4" rx="1.2" fill="none" stroke="#666" stroke-width="1.3"/><text x="502.5" y="396.3" text-anchor="middle" font-family="Liberation Serif" font-size="12" fill="#555">T</text><circle cx="361.9" cy="451.1" r="3.1" fill="#555"/><circle cx="354.79999999999995" cy="459.3" r="2.85" fill="none" stroke="#555" stroke-width="1.1"/><circle cx="361.9" cy="459.3" r="2.85" fill="none" stroke="#555" stroke-width="1.1"/><circle cx="369.2" cy="459.3" r="2.85" fill="none" stroke="#555" stroke-width="1.1"/><path d="M425,447.2 L441,447.2 Q442,447.2 442,448.2 L442,458.4 Q442,459.4 441,459.4 L437.32,459.4 L436.6,463.2 L433.0,459.4 L425,459.4 Q424,459.4 424,458.4 L424,448.2 Q424,447.2 425,447.2 Z" fill="none" stroke="#666" stroke-width="1.3" stroke-linejoin="round"/><circle cx="349.9" cy="513.55" r="2.6" fill="#666"/><circle cx="342.9" cy="521.75" r="2.6" fill="none" stroke="#707070" stroke-width="1.2"/><circle cx="349.9" cy="521.75" r="2.6" fill="none" stroke="#707070" stroke-width="1.2"/><circle cx="356.9" cy="521.75" r="2.6" fill="none" stroke="#707070" stroke-width="1.2"/><circle cx="349.9" cy="544.25" r="2.6" fill="#666"/><circle cx="342.9" cy="552.45" r="2.6" fill="none" stroke="#707070" stroke-width="1.2"/><circle cx="349.9" cy="552.45" r="2.6" fill="none" stroke="#707070" stroke-width="1.2"/><circle cx="356.9" cy="552.45" r="2.6" fill="none" stroke="#707070" stroke-width="1.2"/><circle cx="349.9" cy="574.9499999999999" r="2.6" fill="#666"/><circle cx="342.9" cy="583.15" r="2.6" fill="none" stroke="#707070" stroke-width="1.2"/><circle cx="349.9" cy="583.15" r="2.6" fill="none" stroke="#707070" stroke-width="1.2"/><circle cx="356.9" cy="583.15" r="2.6" fill="none" stroke="#707070" stroke-width="1.2"/><path d="M341.5,602.75 L357.5,602.75 Q358.5,602.75 358.5,603.75 L358.5,612.75 Q358.5,613.75 357.5,613.75 L353.82,613.75 L353.1,617.55 L349.5,613.75 L341.5,613.75 Q340.5,613.75 340.5,612.75 L340.5,603.75 Q340.5,602.75 341.5,602.75 Z" fill="none" stroke="#666" stroke-width="1.3" stroke-linejoin="round"/><path d="M341.5,633.4499999999999 L357.5,633.4499999999999 Q358.5,633.4499999999999 358.5,634.4499999999999 L358.5,643.4499999999999 Q358.5,644.4499999999999 357.5,644.4499999999999 L353.82,644.4499999999999 L353.1,648.2499999999999 L349.5,644.4499999999999 L341.5,644.4499999999999 Q340.5,644.4499999999999 340.5,643.4499999999999 L340.5,634.4499999999999 Q340.5,633.4499999999999 341.5,633.4499999999999 Z" fill="none" stroke="#666" stroke-width="1.3" stroke-linejoin="round"/><circle cx="345.59999999999997" cy="667.4499999999999" r="3.3" fill="#7f69a0"/><circle cx="354.2" cy="667.4499999999999" r="3.3" fill="#ee6b80"/><circle cx="345.59999999999997" cy="675.85" r="3.3" fill="#efa862"/><circle cx="354.2" cy="675.85" r="3.3" fill="#7ca2cc"/><rect x="507.5" y="226.5" width="4.5" height="2.5" fill="#fff"/><rect x="507.5" y="231.5" width="7.5" height="2.5" fill="#fff"/><rect x="507.5" y="236.5" width="13" height="2.5" fill="#fff"/><rect x="499.5" y="666.3" width="4.5" height="2.5" fill="#fff"/><rect x="499.5" y="671.3" width="7.5" height="2.5" fill="#fff"/><rect x="499.5" y="676.3" width="13" height="2.5" fill="#fff"/><rect x="561.0999999999999" y="97.5" width="2.4" height="2.4" fill="#555"/><rect x="561.0999999999999" y="101.5" width="2.4" height="9.5" fill="#555"/><rect x="566.5999999999999" y="97.5" width="2.4" height="2.4" fill="#555"/><rect x="566.5999999999999" y="101.5" width="2.4" height="9.5" fill="#555"/><rect x="572.0999999999999" y="97.5" width="2.4" height="2.4" fill="#555"/><rect x="572.0999999999999" y="101.5" width="2.4" height="9.5" fill="#555"/><rect x="560.8" y="141.8" width="2.4" height="2.2" fill="#555"/><rect x="565" y="141.8" width="11.5" height="2.2" fill="#555"/><rect x="560.8" y="146.0" width="2.4" height="2.2" fill="#555"/><rect x="565" y="146.0" width="11.5" height="2.2" fill="#555"/><rect x="560.8" y="150.20000000000002" width="2.4" height="2.2" fill="#555"/><rect x="565" y="150.20000000000002" width="11.5" height="2.2" fill="#555"/><rect x="560.8" y="154.4" width="2.4" height="2.2" fill="#555"/><rect x="565" y="154.4" width="11.5" height="2.2" fill="#555"/><circle cx="1929.5" cy="232.2" r="3.2" fill="none" stroke="#555" stroke-width="1.2"/><path d="M1927.2,234.6 L1924.3,237.6" stroke="#555" stroke-width="1.4"/><ellipse cx="53.3" cy="1180.8" rx="4.8" ry="2.2" fill="none" stroke="#777" stroke-width="1.2"/><path d="M48.5,1180.8 L48.5,1190 Q48.5,1192.2 53.3,1192.2 Q58.1,1192.2 58.1,1190 L58.1,1180.8" fill="none" stroke="#777" stroke-width="1.2"/><rect x="767.5" y="1178.5" width="13" height="13" rx="1" fill="none" stroke="#666" stroke-width="1.3"/><path d="M774.0 1178.5 L774.0 1191.5 M767.5 1185.0 L780.5 1185.0" stroke="#666" stroke-width="1.3"/><rect x="870.5" y="1178.5" width="13" height="13" rx="1" fill="none" stroke="#666" stroke-width="1.3"/><path d="M877.0 1178.5 L877.0 1191.5 M870.5 1185.0 L883.5 1185.0" stroke="#666" stroke-width="1.3"/><path d="M1219.5,1180.0 L1225.0,1178.5 L1225.0,1190.5 L1219.5,1192.0 Z M1225.0,1178.5 L1231.0,1180.0 L1231.0,1192.0 L1225.0,1190.5 Z" fill="none" stroke="#777" stroke-width="1.3" stroke-linejoin="round"/><rect x="1392" y="1177.5" width="13" height="12" rx="1" fill="none" stroke="#666" stroke-width="1.2"/><rect x="1395" y="1183.5" width="1.5" height="3" fill="#666"/><rect x="1398" y="1181" width="1.5" height="5.5" fill="#666"/><rect x="1401" y="1182.5" width="1.5" height="4" fill="#666"/><path d="M1406.5,1185 L1406.5,1194 M1402,1189.5 L1411,1189.5" stroke="#444" stroke-width="2"/><rect x="1434.5" y="1177.5" width="13" height="12.5" rx="1" fill="none" stroke="#666" stroke-width="1.2"/><path d="M1441,1177.5 L1441,1190 M1434.5,1183.7 L1447.5,1183.7" stroke="#666" stroke-width="1.2"/><path d="M1449,1185 L1449,1194 M1444.5,1189.5 L1453.5,1189.5" stroke="#444" stroke-width="2"/><path d="M1478,1178.5 L1483.5,1177 L1483.5,1189 L1478,1190.5 Z M1483.5,1177 L1489,1178.5 L1489,1184" fill="none" stroke="#666" stroke-width="1.2" stroke-linejoin="round"/><path d="M1492,1185 L1492,1194 M1487.5,1189.5 L1496.5,1189.5" stroke="#444" stroke-width="2"/><rect x="1769" y="1214.5" width="1.3" height="8" fill="#c0c0c0"/><path d="M1777.8,1214.5 L1772.3,1218.5 L1777.8,1222.5 Z" fill="#c0c0c0"/><path d="M1797.5,1214.5 L1792,1218.5 L1797.5,1222.5 Z" fill="#c0c0c0"/><path d="M1814,1214.5 L1819.5,1218.5 L1814,1222.5 Z" fill="#c0c0c0"/><path d="M1833.5,1214.5 L1839,1218.5 L1833.5,1222.5 Z" fill="#c0c0c0"/><rect x="1840.2" y="1214.5" width="1.3" height="8" fill="#c0c0c0"/><rect x="1865.3" y="1213.0" width="3.6" height="3.6" fill="#c2c2c2"/><rect x="1870.3999999999999" y="1213.0" width="3.6" height="3.6" fill="#c2c2c2"/><rect x="1875.5" y="1213.0" width="3.6" height="3.6" fill="#c2c2c2"/><rect x="1865.3" y="1218.1" width="3.6" height="3.6" fill="#c2c2c2"/><rect x="1870.3999999999999" y="1218.1" width="3.6" height="3.6" fill="#c2c2c2"/><rect x="1875.5" y="1218.1" width="3.6" height="3.6" fill="#c2c2c2"/><rect x="1865.3" y="1223.2" width="3.6" height="3.6" fill="#c2c2c2"/><rect x="1870.3999999999999" y="1223.2" width="3.6" height="3.6" fill="#c2c2c2"/><rect x="1875.5" y="1223.2" width="3.6" height="3.6" fill="#c2c2c2"/><rect x="1893.2" y="1213" width="14.8" height="8.6" fill="#bdbdbd"/><rect x="1893.2" y="1223" width="3.6" height="3.6" fill="#bdbdbd"/><rect x="1898.8" y="1223" width="3.6" height="3.6" fill="#bdbdbd"/><rect x="1904.4" y="1223" width="3.6" height="3.6" fill="#bdbdbd"/><rect x="1921" y="1213" width="14.4" height="14.2" fill="#666"/></svg>
</div></body></html>
